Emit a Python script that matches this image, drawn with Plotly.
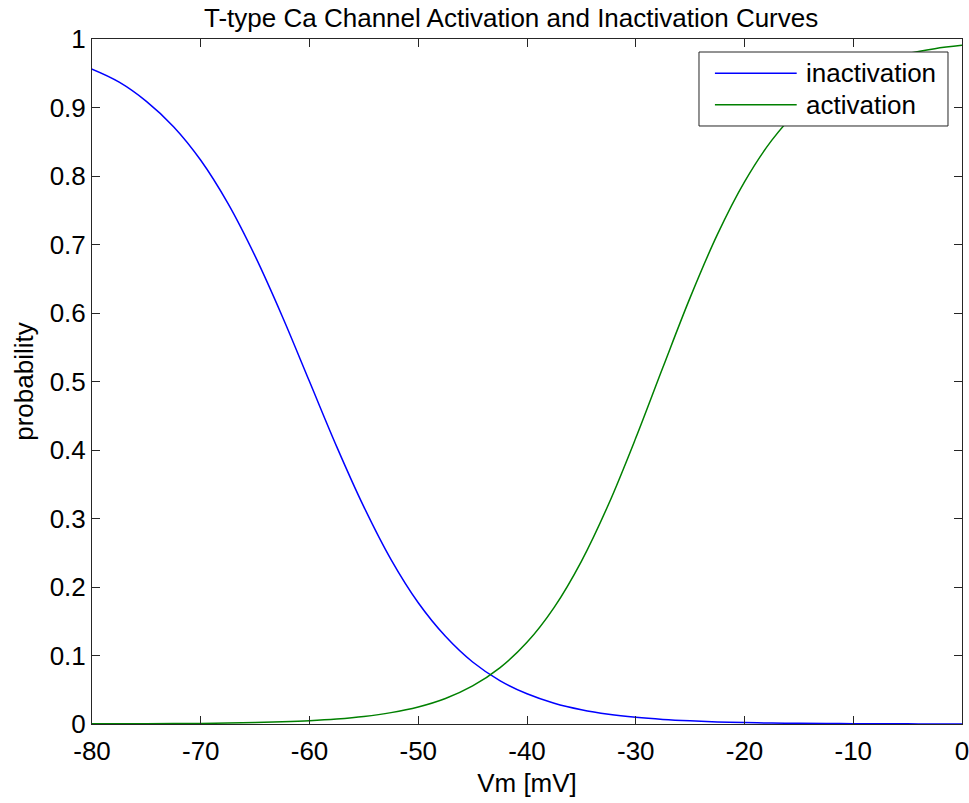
import plotly.graph_objects as go

# Membrane potential samples (mV); the first sample lies just left of the visible range
vm = [-82.5, -80, -77.5, -75, -72.5, -70, -67.5, -65, -62.5, -60, -57.5, -55, -52.5,
      -50, -47.5, -45, -42.5, -40, -37.5, -35, -32.5, -30, -27.5, -25, -22.5,
      -20, -17.5, -15, -12.5, -10, -7.5, -5, -2.5, 0]

# Inactivation probability
inactivation = [0.970, 0.956, 0.937, 0.909, 0.872, 0.823, 0.760, 0.683, 0.595, 0.500,
                0.405, 0.317, 0.240, 0.177, 0.128, 0.0905, 0.0634, 0.0441,
                0.0304, 0.0209, 0.0143, 0.0098, 0.0067, 0.0046, 0.0031, 0.0021,
                0.0014, 0.0010, 0.0007, 0.0005, 0.0003, 0.0002, 0.0001, 0.0001]

# Activation probability
activation = [0.0001, 0.0002, 0.0003, 0.0004, 0.0006, 0.0009, 0.0014, 0.0021, 0.0032,
              0.0048, 0.0073, 0.0110, 0.0166, 0.0249, 0.0373, 0.0556, 0.0819,
              0.1192, 0.1703, 0.2375, 0.3208, 0.4174, 0.5208, 0.6225, 0.7144,
              0.7914, 0.8520, 0.8972, 0.9298, 0.9526, 0.9682, 0.9788, 0.9859,
              0.9907]

x_ticks = [-80, -70, -60, -50, -40, -30, -20, -10, 0]
x_tick_labels = ["-80", "-70", "-60", "-50", "-40", "-30", "-20", "-10", "0"]
y_ticks = [0, 0.1, 0.2, 0.3, 0.4, 0.5, 0.6, 0.7, 0.8, 0.9, 1]
y_tick_labels = ["0", "0.1", "0.2", "0.3", "0.4", "0.5", "0.6", "0.7", "0.8", "0.9", "1"]

series_names = ["inactivation", "activation"]
series_colors = ["#0000ff", "#008000"]

FONT = "Liberation Sans, Arial, Helvetica, sans-serif"

fig = go.Figure()
fig.add_trace(go.Scatter(x=vm, y=inactivation, mode="lines", name=series_names[0],
                         line=dict(color=series_colors[0], width=1.5, shape="spline",
                                   smoothing=1.0),
                         showlegend=False))
fig.add_trace(go.Scatter(x=vm, y=activation, mode="lines", name=series_names[1],
                         line=dict(color=series_colors[1], width=1.5, shape="spline",
                                   smoothing=1.0),
                         showlegend=False))

axis_common = dict(showgrid=False, zeroline=False, showline=True, linecolor="#262626",
                   linewidth=1, ticks="inside", ticklen=8, tickwidth=1, tickcolor="#262626",
                   mirror="ticks", ticklabeloverflow="allow", automargin=False,
                   tickfont=dict(family=FONT, size=26, color="black"))

fig.update_xaxes(range=[-80, 0], tickvals=x_ticks, ticktext=x_tick_labels,
                 title=dict(text="Vm [mV]", font=dict(family=FONT, size=26, color="black"),
                            standoff=8),
                 ticklabelstandoff=4, **axis_common)
fig.update_yaxes(range=[0, 1], tickvals=y_ticks, ticktext=y_tick_labels,
                 title=dict(text="probability", font=dict(family=FONT, size=26, color="black"),
                            standoff=8),
                 ticklabelstandoff=0, **axis_common)

# Legend box drawn manually (MATLAB style, long line samples)
lx0, lx1, ly0, ly1 = 0.6977, 0.9839, 0.873, 0.981
fig.add_shape(type="rect", xref="paper", yref="paper", x0=lx0, x1=lx1, y0=ly0, y1=ly1,
              line=dict(color="#262626", width=1), fillcolor="white", layer="above")
row_y = [0.950, 0.904]
for name, color, ry in zip(series_names, series_colors, row_y):
    fig.add_shape(type="line", xref="paper", yref="paper", x0=0.716, x1=0.810, y0=ry, y1=ry,
                  line=dict(color=color, width=1.5), layer="above")
    fig.add_annotation(xref="paper", yref="paper", x=0.818, y=ry, text=name, showarrow=False,
                       xanchor="left", yanchor="middle",
                       font=dict(family=FONT, size=26, color="black"))

fig.update_layout(
    width=969, height=803,
    margin=dict(l=92, r=7, t=39, b=79),
    paper_bgcolor="white", plot_bgcolor="white",
    title=dict(text="T-type Ca Channel Activation and Inactivation Curves",
               font=dict(family=FONT, size=26, color="black"),
               x=0.5275, xanchor="center", y=0.978, yanchor="middle", yref="container"),
)

fig.write_html("out.html")
